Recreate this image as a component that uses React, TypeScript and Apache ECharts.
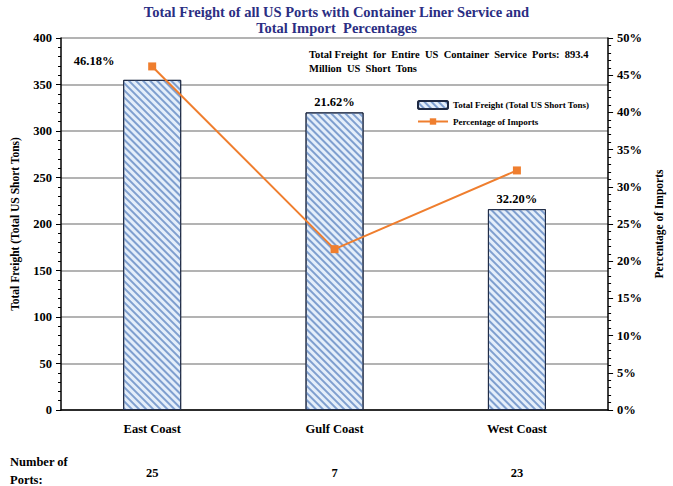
import React, { useEffect, useRef } from "react";
import * as echarts from "echarts";

const categories = ["East Coast", "Gulf Coast", "West Coast"];
const freight = [355, 320, 216];
const importPct = [46.18, 21.62, 32.2];
const ports = ["25", "7", "23"];
const leftTicks = [0, 50, 100, 150, 200, 250, 300, 350, 400];

const FONT = "Liberation Serif";

export default function App() {
  const ref = useRef<HTMLDivElement>(null);
  useEffect(() => {
    if (!ref.current) return;
    const chart = echarts.init(ref.current, null, { renderer: "svg" });
    const option: any = {
      animation: false,
      backgroundColor: "#ffffff",
      textStyle: { fontFamily: FONT },
      title: {
        text: "Total Freight of all US Ports with Container Liner Service and\nTotal Import  Percentages",
        left: "center",
        top: -1,
        textStyle: {
          fontFamily: FONT,
          fontSize: 14.5,
          fontWeight: "bold",
          color: "#2B2E83",
          lineHeight: 16,
        },
      },
      legend: {
        orient: "vertical",
        left: 412,
        top: 95,
        itemWidth: 30,
        itemHeight: 8,
        itemGap: 7,
        textStyle: { fontFamily: FONT, fontSize: 9, fontWeight: "bold", color: "#000" },
        data: ["Total Freight (Total US Short Tons)", "Percentage of Imports"],
      },
      grid: { left: 61, right: 60, top: 38, bottom: 76, containLabel: false },
      xAxis: [
        {
          type: "category",
          data: categories,
          axisLine: { lineStyle: { color: "#000", width: 1.5 } },
          axisTick: { show: false },
          axisLabel: { fontFamily: FONT, fontSize: 12.5, fontWeight: "bold", color: "#000", margin: 12 },
        },
        {
          type: "category",
          data: ports,
          position: "bottom",
          offset: 44,
          axisLine: { show: false },
          axisTick: { show: false },
          axisLabel: { fontFamily: FONT, fontSize: 12.5, fontWeight: "bold", color: "#000", margin: 12 },
        },
      ],
      yAxis: [
        {
          type: "value",
          min: leftTicks[0],
          max: leftTicks[leftTicks.length - 1],
          interval: 50,
          name: "Total Freight (Total US Short Tons)",
          nameLocation: "middle",
          nameGap: 40,
          nameTextStyle: { fontFamily: FONT, fontSize: 11.5, fontWeight: "bold", color: "#000" },
          axisLine: { show: true, lineStyle: { color: "#000", width: 1.5 } },
          axisTick: { show: true, length: 5, lineStyle: { color: "#000" } },
          minorTick: { show: true, splitNumber: 5, length: 3, lineStyle: { color: "#000" } },
          axisLabel: { fontFamily: FONT, fontSize: 12.5, fontWeight: "bold", color: "#000", margin: 9 },
          splitLine: { show: true, lineStyle: { color: "#9a9a9a", width: 1.5 } },
        },
        {
          type: "value",
          min: 0,
          max: 50,
          interval: 5,
          name: "Percentage of Imports",
          nameLocation: "middle",
          nameGap: 44,
          nameTextStyle: { fontFamily: FONT, fontSize: 11.5, fontWeight: "bold", color: "#000" },
          axisLine: { show: true, lineStyle: { color: "#000", width: 1.5 } },
          axisTick: { show: true, length: 5, lineStyle: { color: "#000" } },
          minorTick: { show: true, splitNumber: 5, length: 3, lineStyle: { color: "#000" } },
          axisLabel: {
            fontFamily: FONT,
            fontSize: 12.5,
            fontWeight: "bold",
            color: "#000",
            margin: 9,
            formatter: (v: number) => v + "%",
          },
          splitLine: { show: false },
        },
      ],
      series: [
        {
          name: "Total Freight (Total US Short Tons)",
          type: "bar",
          xAxisIndex: 0,
          yAxisIndex: 0,
          barWidth: 58,
          data: freight.map((v, i) => ({
            value: v,
            label: i === 0 ? { offset: [-58, -8] } : {},
          })),
          itemStyle: {
            color: "#e4eefa",
            borderColor: "#1f2a44",
            borderWidth: 1,
            decal: {
              symbol: "rect",
              symbolSize: 1,
              color: "#7f9fcf",
              dashArrayX: [1, 0],
              dashArrayY: [1.5, 3],
              rotation: Math.PI / 4,
            },
          },
          label: {
            show: true,
            position: "top",
            distance: 4,
            fontFamily: FONT,
            fontSize: 12.5,
            fontWeight: "bold",
            color: "#000",
            formatter: (p: any) => importPct[p.dataIndex].toFixed(2) + "%",
          },
          z: 2,
        },
        {
          name: "Percentage of Imports",
          type: "line",
          xAxisIndex: 0,
          yAxisIndex: 1,
          data: importPct,
          symbol: "rect",
          symbolSize: 8,
          lineStyle: { color: "#EF7E2E", width: 2 },
          itemStyle: { color: "#EF7E2E" },
          z: 3,
        },
      ],
      graphic: [
        {
          type: "text",
          left: 309,
          top: 47,
          style: {
            text: "Total Freight  for  Entire  US  Container  Service  Ports:  893.4\nMillion  US  Short  Tons",
            align: "center",
            x: 0,
            font: `bold 10.5px ${FONT}`,
            fill: "#000",
            lineHeight: 14,
          },
          z: 10,
        },
        {
          type: "text",
          left: 10,
          top: 453,
          style: {
            text: "Number of\nPorts:",
            font: `bold 12.5px ${FONT}`,
            fill: "#000",
            lineHeight: 18,
          },
        },
      ],
    };
    chart.setOption(option);
    return () => chart.dispose();
  }, []);
  return <div ref={ref} style={{ width: 673, height: 486, position: "absolute", left: 0, top: 0 }} />;
}
